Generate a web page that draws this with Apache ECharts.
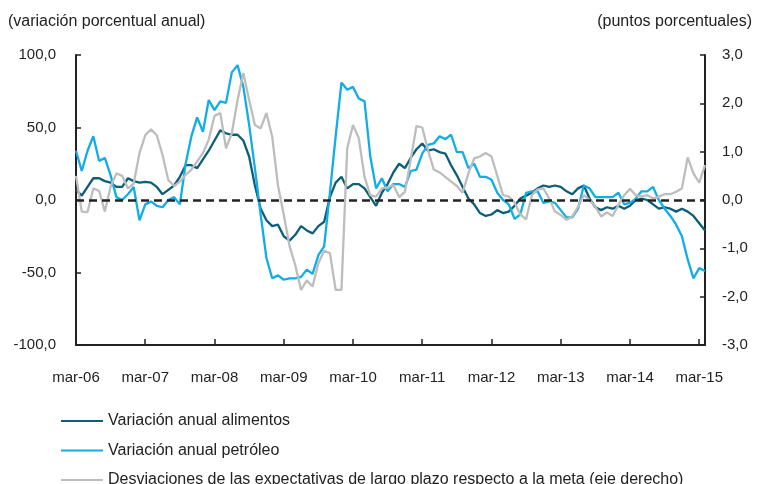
<!DOCTYPE html>
<html>
<head>
<meta charset="utf-8">
<script src="https://cdn.jsdelivr.net/npm/echarts@6/dist/echarts.min.js"></script>
<style>
  html, body { margin: 0; padding: 0; background: #fff; }
  #chart { width: 758px; height: 484px; }
</style>
</head>
<body>
<div id="chart"></div>
<script>
// meses: mar-06 ... abr-15
const monthNames = ['ene', 'feb', 'mar', 'abr', 'may', 'jun', 'jul', 'ago', 'sep', 'oct', 'nov', 'dic'];
const categories = [];
for (let y = 2006, m = 2; categories.length < 110; m++) {
  if (m === 12) { m = 0; y++; }
  categories.push(monthNames[m] + '-' + String(y).slice(2));
}

const seriesNames = [
  'Variación anual alimentos',
  'Variación anual petróleo',
  'Desviaciones de las expectativas de largo plazo respecto a la meta (eje derecho)'
];

// variación anual alimentos (%)
const alimentos = [
  7, 3, 9, 15, 15, 13, 12, 9, 9, 15, 13, 12,
  12.5, 12, 9, 4, 7, 10, 16, 24, 24, 22, 28, 34,
  41, 48, 46, 45, 45, 41, 30, 10, -6, -14, -18, -17,
  -25, -28, -24, -18, -21, -23, -18, -15, 2, 12, 16, 8,
  11, 11, 8, 2, -4, 5, 11, 19, 25, 22, 29, 35,
  39, 34, 35, 33, 32, 24, 17, 9, 1, -3, -9, -11,
  -10, -7, -9, -8, -4, 1, 3, 5, 8, 10, 9, 10,
  9, 6, 4, 8, 10, 1, -5, -7, -5, -6, -4, -6,
  -4, 0, 1, 0, -3, -6, -5, -6, -8, -6, -8, -11,
  -16, -21
];

// variación anual petróleo (%)
const petroleo = [
  34, 20, 34, 44, 27, 29, 17, 2, 0, 4, 9, -14,
  -3, -1, -4, -5, 0, 2, -3, 25, 44, 57, 47, 69,
  62, 68, 67, 88, 93, 78, 52, 22, -10, -40, -54, -52,
  -55, -54, -54, -53, -48, -51, -38, -32, 5, 44, 81, 76,
  78, 70, 68, 30, 8, 15, 6, 11, 11, 9, 20, 21,
  32, 38, 39, 44, 42, 45, 33, 33, 22, 25, 16, 16,
  14, 5, 0, -3, -13, -10, 5, 6, 6, -2, -1, -2,
  -7, -12, -12, -6, 10, 8, 2, 2, 2, 2, 5, -3,
  -2, 1, 6, 6, 9, 0, -6, -11, -17, -25, -41, -54,
  -47, -49
];

// desviaciones de expectativas (puntos porcentuales, eje derecho)
const desviaciones = [
  0.5, -0.24, -0.25, 0.24, 0.19, -0.24, 0.28, 0.55, 0.5, 0.24, 0.34, 0.97,
  1.34, 1.46, 1.34, 0.93, 0.41, 0.29, 0.38, 0.52, 0.63, 0.8, 0.97, 1.25,
  1.74, 1.8, 1.07, 1.38, 2.07, 2.63, 2.07, 1.55, 1.48, 1.8, 1.31, 0.3,
  -0.3, -0.95, -1.35, -1.86, -1.66, -1.79, -1.31, -1.05, -1.1, -1.86, -1.86, 1.07,
  1.55, 1.28, 0.48, 0.1, 0.07, 0.24, 0.26, 0.31, 0.06, 0.17, 0.83, 1.53,
  1.5, 1.03, 0.63, 0.57, 0.48, 0.38, 0.29, 0.15, 0.55, 0.86, 0.9, 0.97,
  0.9, 0.5, 0.1, 0.07, -0.05, -0.3, -0.4, 0.1, 0.22, 0.24, 0.03, -0.24,
  -0.31, -0.41, -0.34, -0.14, 0.1, 0, -0.14, -0.34, -0.26, -0.33, -0.1, 0.1,
  0.23, 0.1, 0.07, 0.1, 0.03, 0.07, 0.12, 0.12, 0.17, 0.24, 0.88, 0.55,
  0.36, 0.72
];

const colors = ['#0b5e7a', '#11ade8', '#bdbdbd'];
const ink = '#222';
const font = '"Liberation Sans", Arial, sans-serif';

const comma = (v) => v.toFixed(1).replace('.', ',');

const chart = echarts.init(document.getElementById('chart'));
chart.setOption({
  animation: false,
  textStyle: { fontFamily: font, color: ink },
  grid: { left: 76, right: 53, top: 55, bottom: 139 },
  // one legend per row so they stack instead of wrapping
  legend: seriesNames.map((name, i) => ({
    left: 56,
    top: 408 + i * 29.5,
    itemWidth: 42,
    itemHeight: 2,
    icon: 'rect',
    selectedMode: false,
    textStyle: { fontSize: 16, color: ink, fontFamily: font },
    data: [name]
  })),
  graphic: [
    { type: 'text', left: 8, top: 14, style: { text: '(variación porcentual anual)', font: '16px ' + font, fill: ink } },
    { type: 'text', right: 6, top: 14, style: { text: '(puntos porcentuales)', font: '16px ' + font, fill: ink } }
  ],
  xAxis: {
    type: 'category',
    data: categories,
    boundaryGap: false,
    axisLine: { onZero: false, lineStyle: { color: ink, width: 2 } },
    axisTick: { inside: true, length: 6, interval: 11, lineStyle: { color: ink, width: 1.5 } },
    axisLabel: { interval: 11, margin: 25, fontSize: 15, color: ink },
    splitLine: { show: false }
  },
  yAxis: [
    {
      type: 'value', min: -100, max: 100, interval: 50,
      axisLine: { show: true, lineStyle: { color: ink, width: 2 } },
      axisTick: { show: true, inside: true, length: 5, lineStyle: { color: ink, width: 1.5 } },
      axisLabel: { formatter: comma, fontSize: 15, color: ink, margin: 20 },
      splitLine: { show: false }
    },
    {
      type: 'value', min: -3, max: 3, interval: 1,
      axisLine: { show: true, lineStyle: { color: ink, width: 2 } },
      axisTick: { show: true, inside: true, length: 5, lineStyle: { color: ink, width: 1.5 } },
      axisLabel: { formatter: comma, fontSize: 15, color: ink, margin: 17 },
      splitLine: { show: false }
    }
  ],
  series: [
    {
      name: seriesNames[0], type: 'line', data: alimentos, yAxisIndex: 0,
      showSymbol: false, color: colors[0], lineStyle: { width: 2.3 }
    },
    {
      name: seriesNames[1], type: 'line', data: petroleo, yAxisIndex: 0,
      showSymbol: false, color: colors[1], lineStyle: { width: 2.3 }
    },
    {
      name: seriesNames[2], type: 'line', data: desviaciones, yAxisIndex: 1,
      showSymbol: false, color: colors[2], lineStyle: { width: 2.3 },
      // dashed zero line, drawn on top of the data
      markLine: {
        silent: true, symbol: 'none', label: { show: false },
        lineStyle: { color: ink, type: [8, 5], width: 2.6 },
        data: [{ yAxis: 0 }]
      }
    }
  ]
});
</script>
</body>
</html>
